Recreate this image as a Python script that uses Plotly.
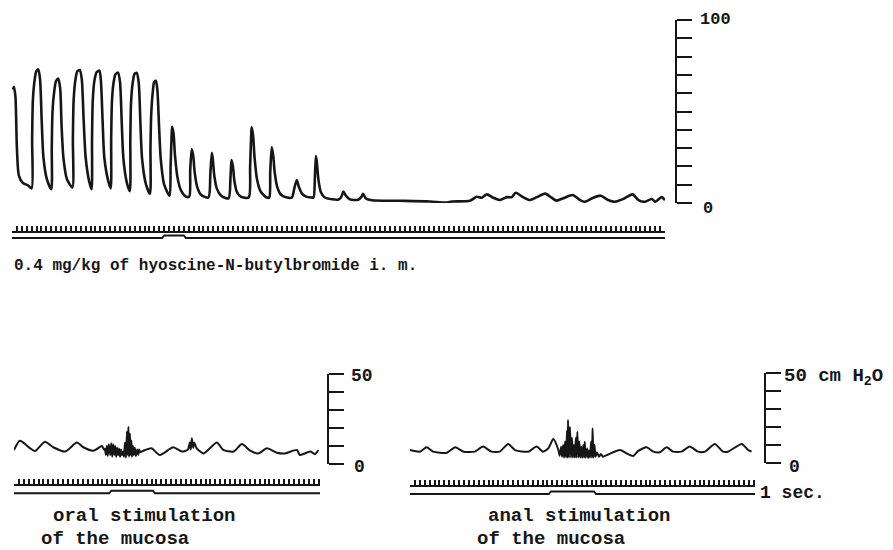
import plotly.graph_objects as go

W, H = 893, 550
INK = "#161616"
FONT = "Liberation Mono, Courier New, monospace"

# ---------------- data ----------------
# Upper record: pressure (cm H2O) vs time (s)
top_t = [0.2, 0.4, 0.7, 1.0, 1.4, 2.2, 3.3, 4.0,
         4.1, 4.25, 4.6, 4.95, 5.35, 5.7, 6.05, 6.4, 7.1, 8.0,
         8.1, 8.25, 8.6, 8.95, 9.4, 9.8, 10.1, 10.5, 11.2, 12.3,
         12.4, 12.55, 12.9, 13.3, 13.8, 14.2, 14.6, 15.0, 15.7, 16.2,
         16.3, 16.45, 16.8, 17.25, 17.8, 18.1, 18.45, 18.8, 19.6, 20.1,
         20.2, 20.35, 20.7, 21.1, 21.6, 22.0, 22.35, 22.7, 23.4, 24.0,
         24.1, 24.25, 24.6, 24.95, 25.4, 25.8, 26.15, 26.5, 27.3, 28.1,
         28.2, 28.35, 28.65, 28.95, 29.3, 29.6, 29.95, 30.3, 31.0, 32.1,
         32.3, 32.5, 32.6, 32.9, 33.2, 33.7, 34.4, 35.4, 36.1,
         36.3, 36.6, 36.9, 37.2, 37.7, 38.5, 40.0,
         40.4, 40.7, 40.9, 41.2, 41.7, 42.6, 44.1,
         44.5, 44.7, 45.0, 45.3, 45.8, 46.6, 48.2,
         48.5, 48.7, 48.8, 49.1, 49.4, 49.9, 50.7, 51.9, 52.4,
         52.6, 52.9, 53.2, 53.5, 54.0, 54.8, 56.0, 57.0,
         57.5, 58.0, 58.4, 59.1, 59.9, 60.9, 61.4,
         61.7, 61.9, 62.1, 62.4, 62.9, 63.7, 65.2, 66.4,
         67.0, 67.5, 68.0, 68.8, 70.5, 71.2, 71.5, 72.1, 73.3,
         79.0, 85.1, 88.4, 89.6, 93.3,
         94.6, 95.7, 96.7, 98.0, 99.4, 100.8, 101.8, 102.6, 104.1, 105.5,
         106.9, 108.6, 109.9, 110.9, 112.3, 114.2, 115.7, 116.7, 118.4, 119.9,
         121.4, 122.8, 124.5, 126.4, 127.6, 128.9, 130.3, 131.0, 132.3, 133.0]
top_v = [62, 63.5, 58, 30, 15, 11, 9.5, 8,
         35, 56, 67, 72, 73, 68, 45, 25, 13, 7.5,
         30, 50, 61, 66.5, 68, 63, 42, 24, 13, 8.5,
         35, 56, 67, 72, 72.7, 68, 45, 25, 12, 7.5,
         35, 56, 67, 71.5, 72.3, 67, 45, 25, 12, 8,
         35, 55, 66, 70.5, 71.2, 66, 44, 24, 11, 6.5,
         35, 55, 66, 70.5, 71.2, 66, 44, 24, 10, 5,
         30, 48, 60, 66, 66.8, 62, 42, 24, 10, 4,
         20, 36, 41.7, 38, 26, 14, 7, 3.5, 3.5,
         18, 29.3, 26, 17, 9, 4.5, 3,
         16, 27.5, 24, 15, 8, 4, 2.5,
         14, 23.5, 20, 12, 6, 3.5, 3,
         20, 36, 41.4, 37, 25, 13, 6, 3, 3,
         17, 30.4, 26, 17, 9, 4.5, 3, 3,
         8, 12.6, 9, 5, 3.5, 3, 3,
         15, 25.7, 22, 13, 6, 3, 2, 1.8,
         3, 6.2, 4, 2, 1.8, 3.5, 5, 2.5, 1.5,
         1.2, 0.8, 0.2, 0.8, 1.2,
         3.4, 2.9, 4.7, 2.9, 1.6, 3.2, 3.2, 5.6, 3.2, 1.6,
         3.2, 5.1, 2.9, 1.3, 2.6, 4.4, 1.6, 0.7, 2.9, 4.0,
         1.6, 0.7, 2.2, 4.7, 1.6, 0.7, 2.2, 0.7, 3.2, 1.6]
top_stim_t = [0, 30.6, 31.0, 35.0, 35.4, 133]
top_stim_v = [0, 0, 1, 1, 0, 0]

# Lower left record: oral stimulation
oral_t = [0.0, 1.2, 3.3, 4.3, 6.3, 8.0, 10.4, 12.8, 14.1, 16.2, 17.9, 18.3,
          18.5, 18.7, 18.9, 19.1, 19.3, 19.6, 19.8, 20.0, 20.2, 20.4, 20.6,
          20.8, 21.0, 21.2, 21.4, 21.6, 21.8, 22.0, 22.2, 22.4, 22.6, 22.8,
          23.0, 23.1, 23.3, 23.4, 23.6, 23.7, 23.9, 24.0, 24.2, 24.4, 24.6,
          24.8, 25.1, 25.3, 25.5, 25.7,
          26.7, 28.0, 29.7, 32.4, 34.2, 35.4, 35.8, 36.0, 36.2, 36.5, 36.7,
          37.2, 38.6, 41.3, 42.6, 44.7, 46.4, 48.1, 49.8, 51.5, 53.5, 55.2,
          57.6, 58.2, 60.3, 61.3, 62.0]
oral_v = [7.8, 12.9, 8.7, 7.2, 12.4, 9.3, 6.9, 11.9, 9.3, 7.4, 10.0, 8.1,
          8.5, 5, 10, 4.5, 11, 5, 11.5, 4, 11, 5, 10,
          4, 9, 5, 8.5, 4, 8, 5, 7, 4, 12, 3.5,
          18, 5, 20.7, 4, 17, 5, 13, 4, 10, 5, 9,
          4.5, 8, 5, 8, 6.5,
          7.8, 8.7, 5.0, 9.3, 6.9, 8, 12, 8, 14.3, 9, 12,
          8.7, 5.9, 11.9, 7.8, 6.9, 11.1, 7.4, 5.9, 8.7, 6.3, 5.9,
          7.8, 5.0, 6.9, 5.6, 7.8]
oral_stim_t = [0, 19.4, 19.8, 28.3, 28.7, 62.3]
oral_stim_v = [0, 0, 1, 1, 0, 0]

# Lower right record: anal stimulation
anal_t = [0.0, 2.0, 3.4, 4.7, 7.5, 9.2, 10.9, 13.2, 14.9, 16.6, 18.3, 20.0,
          21.4, 24.1, 25.8, 27.1, 28.2, 29.2, 30.2,
          30.5, 30.8, 31.0, 31.2, 31.4, 31.6, 31.8, 32.0, 32.1, 32.2, 32.4,
          32.6, 32.8, 33.0, 33.2, 33.4, 33.6, 33.8, 33.9, 34.1, 34.3, 34.5,
          34.7, 34.9, 35.1, 35.3, 35.5, 35.6, 35.8, 36.1, 36.3, 36.5, 36.7,
          36.9, 37.1, 37.2, 37.4, 37.6, 37.8, 38.1, 38.5, 38.9, 39.3,
          40.1, 42.8, 44.1, 45.5, 46.5, 48.2, 49.6, 50.9, 52.3, 53.6, 55.3,
          57.0, 58.7, 60.1, 62.1, 63.8, 64.8, 67.6, 68.9, 69.6]
anal_v = [7.2, 6.3, 8.7, 6.3, 5.7, 8.7, 6.3, 6.3, 9.1, 6.3, 6.3, 10.6,
          7.2, 6.3, 9.1, 6.3, 8.2, 13.3, 7.5,
          4, 9, 3.5, 10, 3, 12, 3, 18, 3, 23.9, 3,
          20, 3, 14, 3, 10, 3, 14, 3, 17.4, 3, 12,
          3, 9, 3, 10, 3, 11.8, 3, 8, 2.8, 7, 3,
          12, 3, 19.3, 3, 10, 3.5, 6, 3.5, 5, 3.5,
          4.4, 7.2, 5.4, 3.9, 6.7, 8.7, 6.3, 6.0, 8.7, 6.3, 6.3,
          9.1, 6.3, 6.3, 10.6, 6.3, 6.3, 10.6, 7.2, 6.3]
anal_stim_t = [0, 28.3, 28.7, 37.5, 37.9, 70.3]
anal_stim_v = [0, 0, 1, 1, 0, 0]

# scale-bar labels
top_scale_labels = ["100", "0"]
low_scale_labels = ["50", "0"]
unit_label = "50 cm H<sub>2</sub>O"
time_label = "1 sec."
drug_label = "0.4 mg/kg of hyoscine-N-butylbromide i. m."
oral_label = ["oral stimulation", "of the mucosa"]
anal_label = ["anal stimulation", "of the mucosa"]


# ---------------- helpers ----------------
def px(x):
    return x / W


def py(y):
    return 1 - y / H


def comb_axis(x0, x1, rng, ybase):
    return dict(domain=[px(x0), px(x1)], range=rng, anchor="free", position=py(ybase),
                showline=True, linecolor=INK, linewidth=1.6, ticks="inside", ticklen=5,
                tickwidth=1.8, tickcolor=INK, tickmode="linear", tick0=0, dtick=1,
                showticklabels=False, showgrid=False, zeroline=False, fixedrange=True)


def scale_axis(xbar, ybot, ytop, rng):
    return dict(domain=[py(ybot), py(ytop)], range=rng, anchor="free", position=px(xbar),
                side="right", showline=True, linecolor=INK, linewidth=2.4, ticks="outside",
                ticklen=15, tickwidth=2, tickcolor=INK, tickmode="linear", tick0=0, dtick=10,
                showticklabels=False, showgrid=False, zeroline=False, fixedrange=True)


def stim_axis(ybot, ytop, rng):
    return dict(domain=[py(ybot), py(ytop)], range=rng, visible=False, anchor="free",
                position=0, fixedrange=True)


fig = go.Figure()
line_main = dict(color=INK, width=2.6, shape="spline", smoothing=0.7)
line_low = dict(color=INK, width=2.0, shape="spline", smoothing=0.6)
line_stim = dict(color=INK, width=1.8)

for t, v, xa, ya, ln in [
    (top_t, top_v, "x", "y", line_main),
    (top_stim_t, top_stim_v, "x", "y4", line_stim),
    (oral_t, oral_v, "x2", "y2", line_low),
    (oral_stim_t, oral_stim_v, "x2", "y5", line_stim),
    (anal_t, anal_v, "x3", "y3", line_low),
    (anal_stim_t, anal_stim_v, "x3", "y6", line_stim),
]:
    fig.add_trace(go.Scatter(x=t, y=v, xaxis=xa, yaxis=ya, mode="lines", line=ln,
                             hoverinfo="skip", showlegend=False))

ann = []


def label(text, x, y, size, xanchor="left"):
    ann.append(dict(text="<b>" + text + "</b>", x=px(x), y=py(y), xref="paper", yref="paper",
                    xanchor=xanchor, yanchor="middle", showarrow=False, borderpad=0,
                    font=dict(family=FONT, size=size, color=INK)))


label(top_scale_labels[0], 699, 19, 17)
label(top_scale_labels[1], 702, 208, 17)
label(low_scale_labels[0], 350, 376, 18)
label(low_scale_labels[1], 353, 467, 18)
label(unit_label, 783, 377, 19)
label(low_scale_labels[1], 788, 467, 18)
label(time_label, 759, 493, 18)
label(drug_label, 13, 266, 16)
label(oral_label[0], 52, 516, 19)
label(oral_label[1], 40, 538.5, 19)
label(anal_label[0], 487, 516, 19)
label(anal_label[1], 476, 538.5, 19)

fig.update_layout(
    width=W, height=H, autosize=False,
    margin=dict(l=0, r=0, t=0, b=0, pad=0),
    paper_bgcolor="white", plot_bgcolor="rgba(0,0,0,0)",
    showlegend=False,
    xaxis=comb_axis(12, 665, [0, 133], 232),
    xaxis2=comb_axis(14, 320, [0, 62.3], 485),
    xaxis3=comb_axis(410, 755, [0, 70.3], 486),
    yaxis=scale_axis(676, 203, 20, [0, 100]),
    yaxis2=scale_axis(328, 464, 374, [0, 50]),
    yaxis3=scale_axis(765, 463, 373, [0, 50]),
    yaxis4=stim_axis(242, 232, [-1.6, 2.4]),
    yaxis5=stim_axis(498, 488, [-1.9, 2.1]),
    yaxis6=stim_axis(499, 489, [-2, 2]),
    annotations=ann,
)

fig.write_html("out.html")
